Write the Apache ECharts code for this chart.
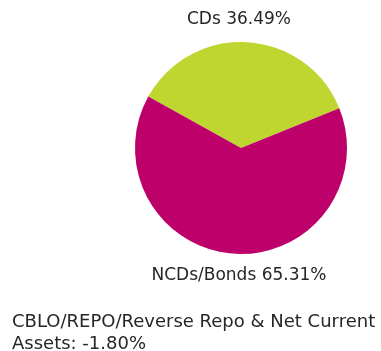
<!DOCTYPE html>
<html>
<head>
<meta charset="utf-8">
<script src="https://cdn.jsdelivr.net/npm/echarts@6/dist/echarts.min.js"></script>
<style>
  html, body { margin: 0; padding: 0; background: #ffffff; }
  #chart { width: 381px; height: 351px; }
</style>
</head>
<body>
<div id="chart"></div>
<script>
// Portfolio allocation
var categories = ['CDs', 'NCDs/Bonds'];
var values = [36.49, 65.31];
var colors = ['#bed62f', '#be006b'];

// Net holding shown as a note below the pie (negative, so not drawn as a slice)
var otherName = 'CBLO/REPO/Reverse Repo & Net Current\nAssets';
var otherValue = -1.80;

var FONT = '"DejaVu Sans", sans-serif';
var cx = 241, cy = 148, radius = 106;

var chart = echarts.init(document.getElementById('chart'), null, { renderer: 'canvas' });

chart.setOption({
  animation: false,
  backgroundColor: '#ffffff',
  title: {
    text: otherName + ': ' + otherValue.toFixed(2) + '%',
    left: 12,
    top: 311,
    padding: 0,
    textStyle: {
      fontFamily: FONT,
      fontSize: 18,
      fontWeight: 'normal',
      color: '#262626',
      lineHeight: 22
    }
  },
  series: [{
    type: 'pie',
    center: [cx, cy],
    radius: [0, radius],
    startAngle: 151,
    clockwise: true,
    avoidLabelOverlap: false,
    data: categories.map(function (c, i) {
      return { name: c, value: values[i], itemStyle: { color: colors[i] } };
    }),
    label: {
      show: true,
      position: 'outside',
      formatter: function (p) { return p.name + ' ' + p.value.toFixed(2) + '%'; },
      fontFamily: FONT,
      fontSize: 17,
      color: '#262626'
    },
    labelLine: { show: false },
    labelLayout: function (p) {
      var top = p.dataIndex === 0;
      return {
        x: cx - 2,
        y: top ? cy - radius - 22 : cy + radius + 22,
        align: 'center',
        verticalAlign: 'middle'
      };
    },
    emphasis: { disabled: true }
  }]
});
</script>
</body>
</html>
